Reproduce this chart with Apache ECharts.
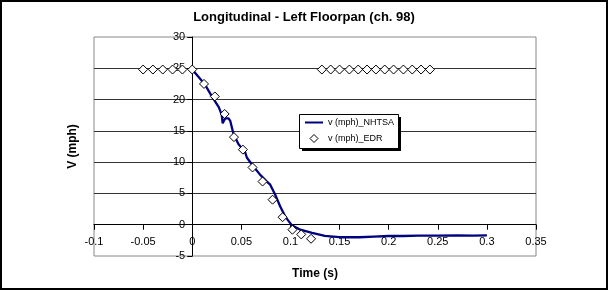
<!DOCTYPE html>
<html>
<head>
<meta charset="utf-8">
<script src="https://cdn.jsdelivr.net/npm/echarts@6/dist/echarts.min.js"></script>
<style>
html,body{margin:0;padding:0;background:#fff;}
#c{width:608px;height:290px;}
</style>
</head>
<body>
<div id="c"></div>
<script>
// NHTSA velocity trace (time s, v mph)
var nhtsaT = [0.000, 0.013, 0.020, 0.027, 0.030, 0.031, 0.0336, 0.037, 0.0387, 0.042, 0.047, 0.0496, 0.052, 0.053, 0.0557, 0.0624, 0.069, 0.076, 0.0794, 0.0845, 0.0896, 0.0947, 0.1015, 0.110, 0.122, 0.135, 0.150, 0.170, 0.185, 0.200, 0.215, 0.230, 0.250, 0.270, 0.285, 0.300];
var nhtsaV = [24.8, 22.4, 20.5, 18.8, 17.6, 16.2, 17.0, 17.0, 16.6, 14.5, 12.9, 12.4, 11.6, 12.0, 10.7, 9.3, 8.0, 6.9, 6.4, 4.8, 2.9, 1.3, -0.1, -0.8, -1.3, -1.8, -2.0, -2.0, -1.9, -1.8, -1.8, -1.75, -1.75, -1.7, -1.75, -1.7];
// EDR velocity samples
var edrT = [-0.05, -0.04, -0.03, -0.02, -0.01, 0.0, 0.012, 0.023, 0.033, 0.0425, 0.0516, 0.0614, 0.0716, 0.0818, 0.092, 0.102, 0.111, 0.121, 0.132, 0.141, 0.150, 0.160, 0.169, 0.178, 0.187, 0.196, 0.205, 0.215, 0.224, 0.233, 0.242];
var edrV = [24.8, 24.8, 24.8, 24.8, 24.8, 24.8, 22.5, 20.5, 17.7, 14.0, 12.0, 9.15, 6.9, 4.0, 1.2, -0.8, -1.55, -2.25, 24.8, 24.8, 24.8, 24.8, 24.8, 24.8, 24.8, 24.8, 24.8, 24.8, 24.8, 24.8, 24.8];
var seriesNames = ['v (mph)_NHTSA', 'v (mph)_EDR'];
var titleText = 'Longitudinal - Left Floorpan (ch. 98)';
var xName = 'Time (s)';
var yName = 'V (mph)';

function pairs(t, v) { return t.map(function (x, i) { return [x, v[i]]; }); }

var font = 'Liberation Sans, Arial, sans-serif';
var G = { left: 94, right: 72, top: 37, bottom: 34 };
var W = 608, H = 290;
var plotW = W - G.left - G.right, plotH = H - G.top - G.bottom;
var xMin = -0.1, xMax = 0.35, yMin = -5, yMax = 30;
// offsets so that axes sit at x=0 / y=0 (derived from the axis ranges)
var yAxisOffset = -plotW * (0 - xMin) / (xMax - xMin);
var xAxisOffset = -plotH * (0 - yMin) / (yMax - yMin);

var chart = echarts.init(document.getElementById('c'), null, { renderer: 'canvas' });
chart.setOption({
  backgroundColor: '#fff',
  animation: false,
  title: {
    text: titleText, left: 'center', top: 6,
    textStyle: { fontFamily: font, fontSize: 13, fontWeight: 'bold', color: '#000' }
  },
  graphic: [{
    type: 'rect', z: 100, silent: true,
    shape: { x: 1, y: 1, width: 606, height: 288 },
    style: { fill: 'none', stroke: '#000', lineWidth: 2 }
  }, {
    type: 'rect', z: 10, silent: true,
    shape: { x: 302, y: 117, width: 99, height: 34 },
    style: { fill: '#000', stroke: 'none' }
  }, {
    type: 'rect', z: 11, silent: true,
    shape: { x: 299.5, y: 114.5, width: 99, height: 34 },
    style: { fill: '#fff', stroke: '#000', lineWidth: 1 }
  }],
  legend: {
    orient: 'vertical', left: 300, top: 115, z: 20,
    padding: [3, 4, 3, 4], itemGap: 7, itemWidth: 18, itemHeight: 8,
    backgroundColor: 'transparent', borderWidth: 0,
    textStyle: { fontFamily: font, fontSize: 9, color: '#000' },
    data: [
      { name: seriesNames[0], icon: 'inherit', itemStyle: { color: 'transparent', borderColor: 'transparent', borderWidth: 0, opacity: 0 } },
      { name: seriesNames[1], icon: 'path://M4,0L8,4L4,8L0,4Z', itemStyle: { color: '#fff', borderColor: '#000', borderWidth: 1 } }
    ]
  },
  grid: {
    left: G.left, right: G.right, top: G.top, bottom: G.bottom,
    outerBoundsMode: 'none', containLabel: false,
    show: true, borderColor: '#888', borderWidth: 1, backgroundColor: 'transparent'
  },
  xAxis: {
    type: 'value', min: xMin, max: xMax, interval: 0.05,
    position: 'bottom', offset: xAxisOffset,
    name: xName, nameLocation: 'middle', nameGap: 43,
    nameTextStyle: { fontFamily: font, fontSize: 12, fontWeight: 'bold', color: '#000' },
    axisLine: { onZero: false, lineStyle: { color: '#000', width: 1 } },
    axisTick: { show: true, length: 5, lineStyle: { color: '#000' } },
    axisLabel: { fontFamily: font, fontSize: 11, color: '#000', margin: 12 },
    splitLine: { show: false }
  },
  yAxis: {
    type: 'value', min: yMin, max: yMax, interval: 5,
    position: 'left', offset: yAxisOffset,
    name: yName, nameLocation: 'middle', nameGap: 114, nameRotate: 90,
    nameTextStyle: { fontFamily: font, fontSize: 12, fontWeight: 'bold', color: '#000' },
    axisLine: { onZero: false, lineStyle: { color: '#000', width: 1 } },
    axisTick: { show: true, length: 5, lineStyle: { color: '#000' } },
    axisLabel: { fontFamily: font, fontSize: 11, color: '#000', margin: 7 },
    splitLine: { show: true, showMinLine: false, showMaxLine: false, lineStyle: { color: '#333', width: 1 } }
  },
  series: [{
    name: seriesNames[0], type: 'line', data: pairs(nhtsaT, nhtsaV),
    symbol: 'none', showSymbol: false, smooth: false,
    lineStyle: { color: '#000080', width: 2.3 }, itemStyle: { color: '#000080' }, z: 2
  }, {
    name: seriesNames[1], type: 'scatter', data: pairs(edrT, edrV),
    symbol: 'diamond', symbolSize: 9, symbolKeepAspect: true,
    itemStyle: { color: '#fff', borderColor: '#000', borderWidth: 1, opacity: 1 }, z: 3
  }]
});
</script>
</body>
</html>
